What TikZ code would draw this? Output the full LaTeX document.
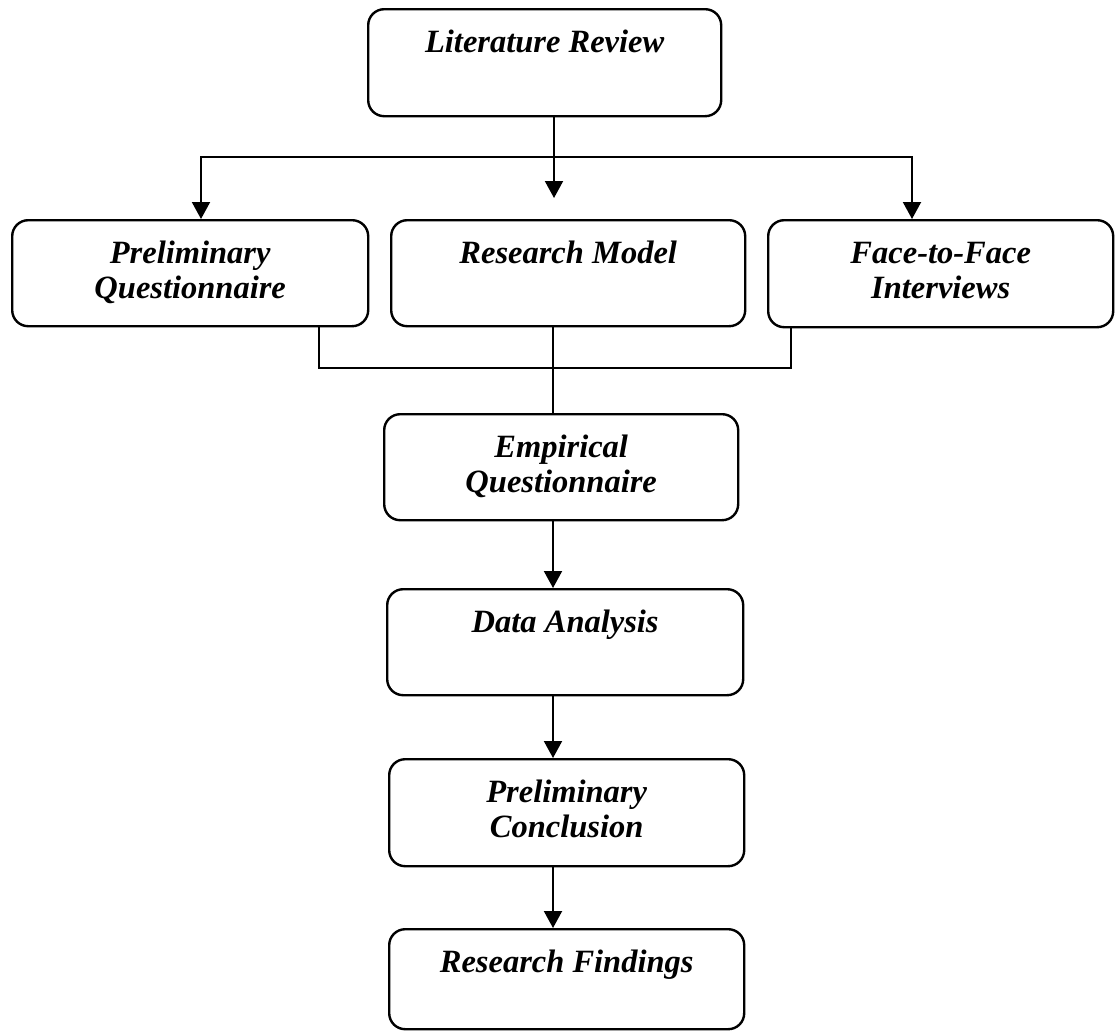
\documentclass[tikz,border=0pt]{standalone}
\usepackage{fontspec}
\setmainfont{Liberation Serif}
\usetikzlibrary{arrows.meta}

% text block of a stage: fixed size, lines centred, first baseline at a fixed depth
\newcommand{\stagetext}[3]{%
  \parbox[c][#2pt][t]{#1pt}{\centering\fontsize{32.5}{35}\selectfont\bfseries\itshape
    \rule{0pt}{43pt}#3}}

\tikzset{
  stage/.style={draw, line width=2.4pt, rounded corners=16pt, inner sep=0pt,
                anchor=north west, fill=white},
  flow/.style={line width=2pt},
  arrow/.style={flow, -{Triangle[width=18pt,length=17pt]}}
}

\begin{document}
\begin{tikzpicture}[x=1pt,y=-1pt]
  \useasboundingbox (0,0) rectangle (1120,1031);

  % stages
  \node[stage] (LR) at (367,8)   {\stagetext{353}{107}{Literature Review}};
  \node[stage] (PQ) at (11,219)  {\stagetext{356}{106}{Preliminary\\Questionnaire}};
  \node[stage] (RM) at (390,219) {\stagetext{354}{106}{Research Model}};
  \node[stage] (FF) at (767,219) {\stagetext{345}{107}{Face-to-Face\\Interviews}};
  \node[stage] (EQ) at (383,413) {\stagetext{354}{106}{Empirical\\Questionnaire}};
  \node[stage] (DA) at (386,588) {\stagetext{356}{106}{Data Analysis}};
  \node[stage] (PC) at (388,758) {\stagetext{355}{107}{Preliminary\\Conclusion}};
  \node[stage] (RF) at (388,928) {\stagetext{355}{100}{Research Findings}};

  % branching below the literature review
  \coordinate (hub) at (554,157);
  \coordinate (midtip) at (554,198);
  \draw[flow] (hub |- LR.south) -- (hub);
  \draw[arrow] (hub) -- (midtip);
  \draw[arrow] (hub) -| ([xshift=190pt]PQ.north west);
  \draw[arrow] (hub) -| ([xshift=145pt]FF.north west);

  % joining into the empirical questionnaire
  \coordinate (join) at (553,368);
  \draw[flow] ([xshift=308pt]PQ.south west) |- (join) -| ([xshift=24pt]FF.south west);
  \draw[flow] (join |- RM.south) -- (join |- EQ.north);

  % main sequence
  \draw[arrow] (join |- EQ.south) -- (join |- DA.north);
  \draw[arrow] (join |- DA.south) -- (join |- PC.north);
  \draw[arrow] (join |- PC.south) -- (join |- RF.north);
\end{tikzpicture}
\end{document}
